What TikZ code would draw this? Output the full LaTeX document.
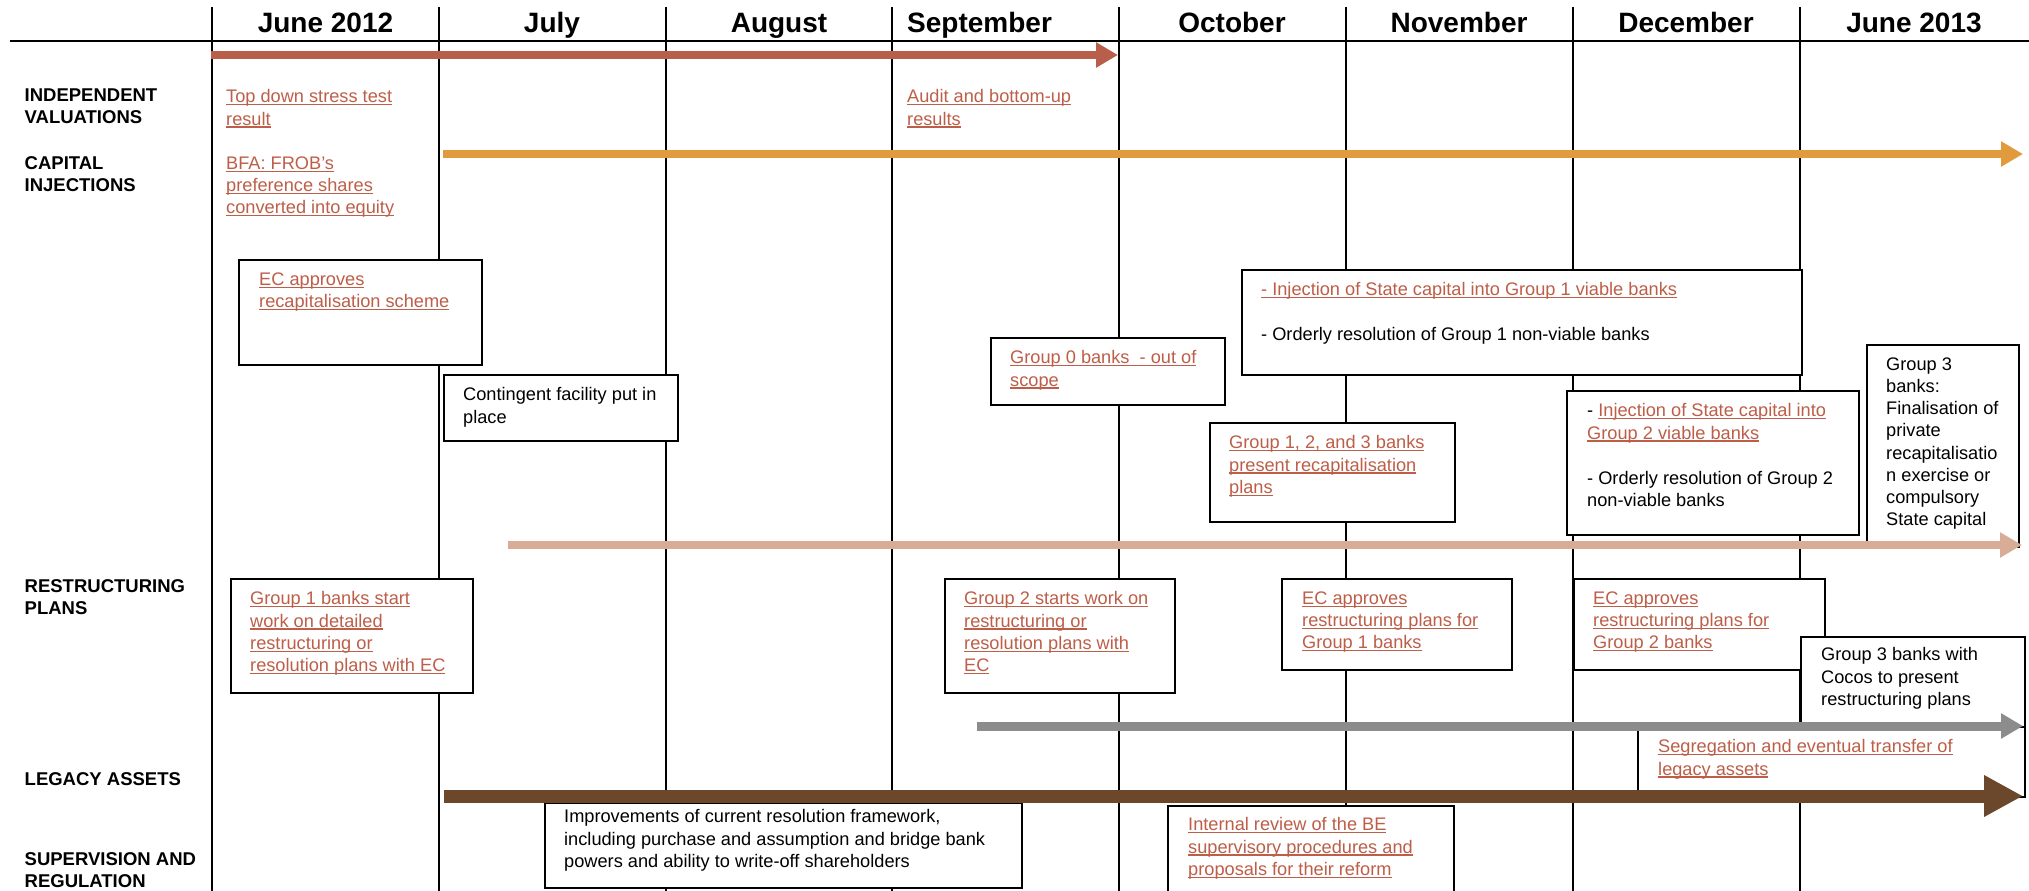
\documentclass[tikz,border=0pt]{standalone}
\usepackage{fontspec}
\setmainfont{Liberation Sans}
\usetikzlibrary{arrows.meta}
\definecolor{linkred}{RGB}{189,94,72}
\definecolor{barred}{RGB}{184,94,75}
\definecolor{barorange}{RGB}{225,154,60}
\definecolor{barpeach}{RGB}{216,172,151}
\definecolor{bargray}{RGB}{140,140,140}
\definecolor{barbrown}{RGB}{107,71,44}
\newcommand\lnk[1]{\setbox0\hbox{#1}\textcolor{linkred}{\rlap{\rule[-2.6pt]{\wd0}{1.3pt}}\box0}}
\newcommand\bodyfont{\fontsize{18.2}{22.2}\selectfont}
\newcommand\headfont{\bfseries\fontsize{28}{30}\selectfont}
\newcommand\rowfont{\bfseries\fontsize{18.5}{22.5}\selectfont}

\begin{document}
\begin{tikzpicture}[x=1pt,y=-1pt]
% Styles
\tikzstyle{grid line}=[line width=2pt]
\tikzstyle{box}=[draw, line width=2pt, fill=white, inner sep=0, anchor=north west]
% first line baseline sits at the given point
\tikzstyle{txt}=[anchor=north west, yshift=15.54pt, inner sep=0, align=left, font=\bodyfont, execute at begin node=\strut]
\tikzstyle{row label}=[anchor=north west, yshift=15.75pt, inner sep=0, align=left, font=\rowfont, execute at begin node=\strut]
\tikzstyle{band}=[line width=8pt, -{Triangle[length=22pt,width=24pt]}]

\useasboundingbox (0,0) rectangle (2029,891);

% draw the grid
\foreach \i in {0,...,7} {
\draw[grid line] ({212+226.8*\i},7) -- ({212+226.8*\i},891);
}
\draw[grid line] (10,41) -- (2029,41);

% months
\foreach \x/\a/\m in {325.5/base/June 2012, 552/base/July, 779/base/August,
  907/base west/September, 1232/base/October, 1459/base/November,
  1686/base/December, 1914/base/June 2013} {
\node[anchor=\a, inner sep=0, font=\headfont] at (\x,33) {\m};
}

% row labels
\node[row label] (valuations) at (24.5,104) {INDEPENDENT\\VALUATIONS};
\node[row label] (injections) at (24.5,172) {CAPITAL\\INJECTIONS};
\node[row label] (plans) at (24.5,595) {RESTRUCTURING\\PLANS};
\node[row label] (legacy) at (24.5,785) {LEGACY ASSETS};
\node[row label] (supervision) at (24.5,868) {SUPERVISION AND\\REGULATION};

% free texts
\node[txt] (stresstest) at (226,105) {\lnk{Top down stress test}\\\lnk{result}};
\node[txt] (frob) at (226,172) {\lnk{BFA: FROB's}\\\lnk{preference shares}\\\lnk{converted into equity}};
\node[txt] (audit) at (907,105) {\lnk{Audit and bottom-up}\\\lnk{results}};

% boxes
\node[box, minimum width=243, minimum height=105] (scheme) at (238,259) {};
\node[txt] at (259,288) {\lnk{EC approves}\\\lnk{recapitalisation scheme}};

\node[box, minimum width=234, minimum height=66] (facility) at (443,374) {};
\node[txt] at (463,403) {Contingent facility put in\\place};

\node[box, minimum width=234, minimum height=67] (groupzero) at (990,337) {};
\node[txt] at (1010,366) {\lnk{Group 0 banks\ \ - out of}\\\lnk{scope}};

\node[box, minimum width=560, minimum height=105] (injectone) at (1241,269) {};
\node[txt] at (1261,298) {\lnk{- Injection of State capital into Group 1 viable banks}\\[22pt]- Orderly resolution of Group 1 non-viable banks};

\node[box, minimum width=245, minimum height=99] (recapplans) at (1209,422) {};
\node[txt] at (1229,451) {\lnk{Group 1, 2, and 3 banks}\\\lnk{present recapitalisation}\\\lnk{plans}};

\node[box, minimum width=292, minimum height=144] (injecttwo) at (1566,390) {};
\node[txt] at (1587,419) {- \lnk{Injection of State capital into}\\\lnk{Group 2 viable banks}\\[23pt]- Orderly resolution of Group 2\\non-viable banks};

\node[box, minimum width=152, minimum height=202] (groupthree) at (1866,344) {};
\node[txt] at (1886,373) {Group 3\\banks:\\Finalisation of\\private\\recapitalisatio\\n exercise or\\compulsory\\State capital};

\node[box, minimum width=242, minimum height=114] (oneplans) at (230,578) {};
\node[txt] at (250,607) {\lnk{Group 1 banks start}\\\lnk{work on detailed}\\\lnk{restructuring or}\\\lnk{resolution plans with EC}};

\node[box, minimum width=230, minimum height=114] (twoplans) at (944,578) {};
\node[txt] at (964,607) {\lnk{Group 2 starts work on}\\\lnk{restructuring or}\\\lnk{resolution plans with}\\\lnk{EC}};

\node[box, minimum width=230, minimum height=91] (econe) at (1281,578) {};
\node[txt] at (1302,607) {\lnk{EC approves}\\\lnk{restructuring plans for}\\\lnk{Group 1 banks}};

\node[box, minimum width=251, minimum height=91] (ectwo) at (1573,578) {};
\node[txt] at (1593,607) {\lnk{EC approves}\\\lnk{restructuring plans for}\\\lnk{Group 2 banks}};

\node[box, minimum width=224, minimum height=90] (cocos) at (1800,636) {};
\node[txt] at (1821,663) {Group 3 banks with\\Cocos to present\\restructuring plans};

\node[box, minimum width=387, minimum height=70] (segregation) at (1637,726) {};
\node[txt] at (1658,755) {\lnk{Segregation and eventual transfer of}\\\lnk{legacy assets}};

\node[box, minimum width=477, minimum height=85] (framework) at (544,802) {};
\node[txt] at (564,825) {Improvements of current resolution framework,\\including purchase and assumption and bridge bank\\powers and ability to write-off shareholders};

\node[box, minimum width=286, minimum height=91] (review) at (1167,805) {};
\node[txt] at (1188,833) {\lnk{Internal review of the BE}\\\lnk{supervisory procedures and}\\\lnk{proposals for their reform}};

% time bars
\coordinate (redstart) at (211,55);
\coordinate (redend) at (1118,55);
\coordinate (orangestart) at (443,154);
\coordinate (orangeend) at (2023,154);
\coordinate (peachstart) at (508,545);
\coordinate (peachend) at (2022,545);
\coordinate (graystart) at (977,726);
\coordinate (grayend) at (2023,726);
\coordinate (brownstart) at (444,796);
\coordinate (brownend) at (2023,796);

\draw[band, barred] (redstart) -- (redend);
\draw[band, barorange] (orangestart) -- (orangeend);
\draw[band, barpeach] (peachstart) -- (peachend);
\draw[band, bargray, line width=9pt] (graystart) -- (grayend);
\draw[barbrown, line width=13pt, -{Triangle[length=39pt,width=39pt]}] (brownstart) -- (brownend);

\end{tikzpicture}
\end{document}
